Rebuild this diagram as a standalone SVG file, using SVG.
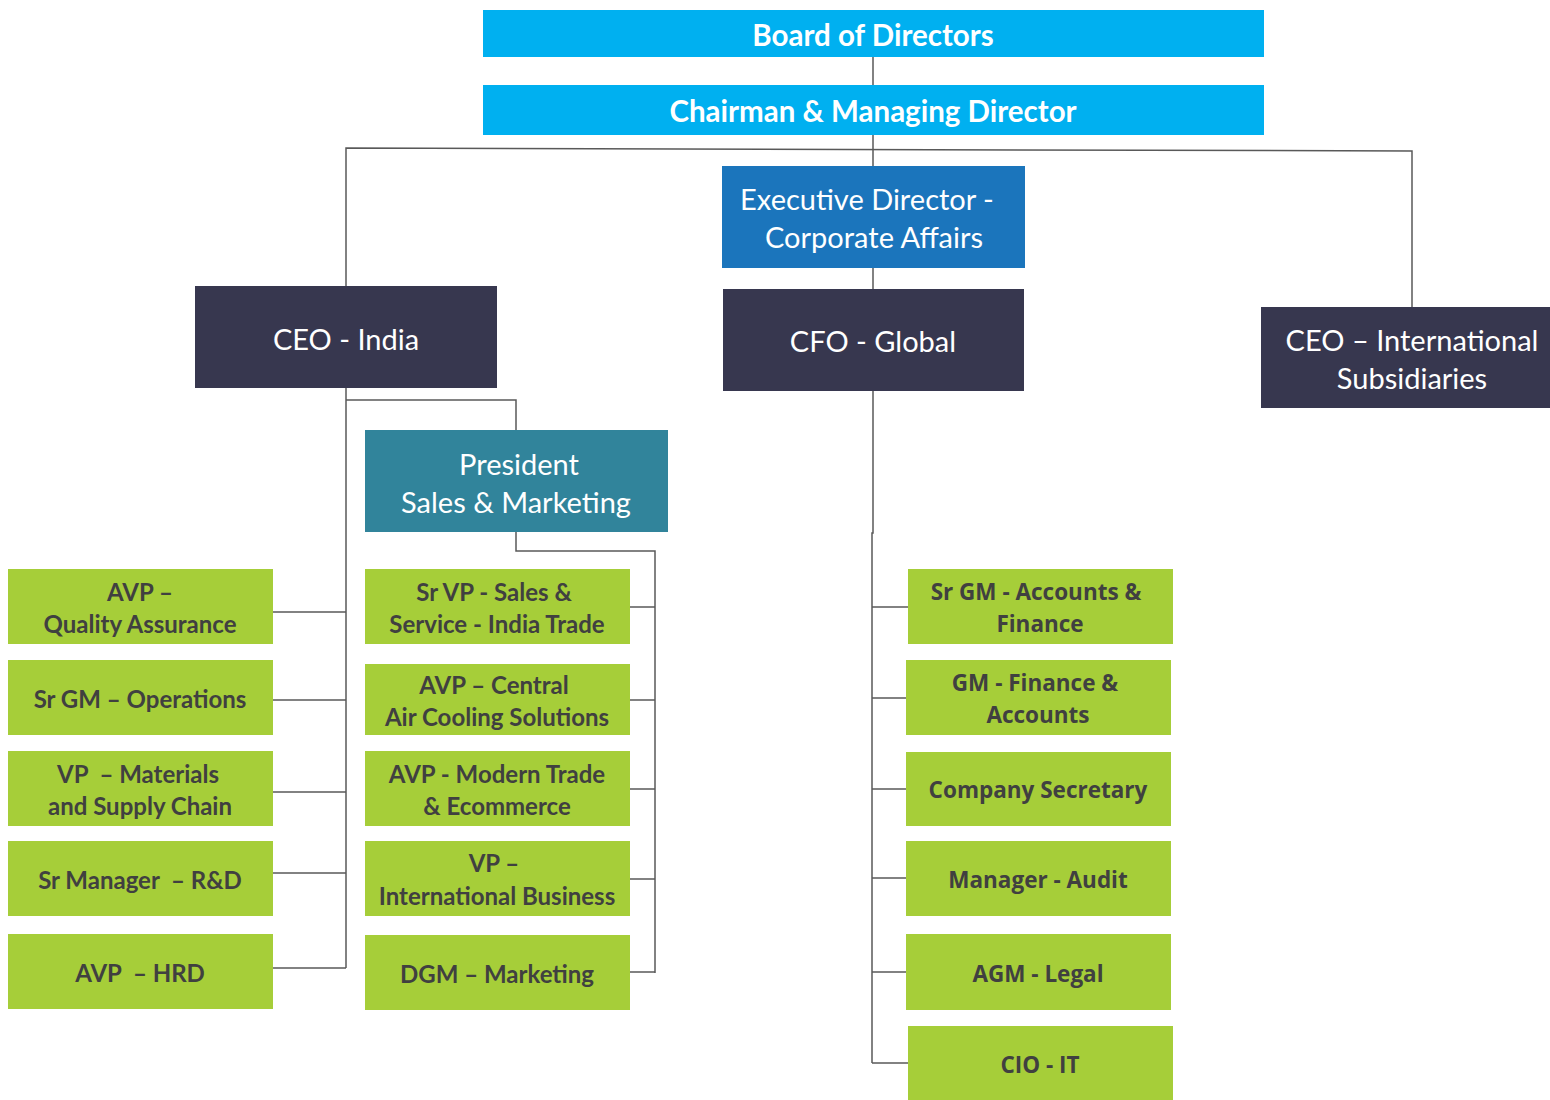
<svg xmlns="http://www.w3.org/2000/svg" width="1550" height="1100" viewBox="0 0 1550 1100">
<style>
.bg{fill:#ffffff}
.top{fill:#00B0F0}
.ed{fill:#1B75BC}
.dark{fill:#37374F}
.pres{fill:#31849B}
.green{fill:#A6CE39}
.tw{fill:#ffffff;font-family:Lato,"Liberation Sans",sans-serif;text-anchor:middle;dominant-baseline:central}
.tb{font-weight:700;font-size:29.5px}
.tr{font-weight:400;font-size:29px}
.tg{fill:#404040;font-family:Lato,"Liberation Sans",sans-serif;font-weight:700;font-size:24px;text-anchor:middle;dominant-baseline:central}
.tf{fill:#404040;font-family:"Open Sans","Liberation Sans",sans-serif;font-weight:700;font-size:22.5px;text-anchor:middle;dominant-baseline:central}
.ln{fill:none;stroke:#595959;stroke-width:1.5}
</style>
<rect class="bg" x="0" y="0" width="1550" height="1100"/>
<g id="connectors">
<polyline class="ln" points="873,57 873,85"/>
<polyline class="ln" points="873,135 873,166"/>
<polyline class="ln" points="346,286 346,148 1412,151 1412,307"/>
<polyline class="ln" points="873,268 873,289"/>
<polyline class="ln" points="346,388 346,968"/>
<polyline class="ln" points="346,400 516,400 516,430"/>
<polyline class="ln" points="273,612 346,612"/>
<polyline class="ln" points="273,700 346,700"/>
<polyline class="ln" points="273,792 346,792"/>
<polyline class="ln" points="273,873 346,873"/>
<polyline class="ln" points="273,968 346,968"/>
<polyline class="ln" points="516,532 516,551 655,551 655,973"/>
<polyline class="ln" points="630,607 655,607"/>
<polyline class="ln" points="630,700 655,700"/>
<polyline class="ln" points="630,789 655,789"/>
<polyline class="ln" points="630,879 655,879"/>
<polyline class="ln" points="630,972 655,972"/>
<polyline class="ln" points="873,391 873,533 872,533 872,1063"/>
<polyline class="ln" points="872,607 908,607"/>
<polyline class="ln" points="872,698 906,698"/>
<polyline class="ln" points="872,789 906,789"/>
<polyline class="ln" points="872,878 906,878"/>
<polyline class="ln" points="872,972 906,972"/>
<polyline class="ln" points="872,1063 908,1063"/>
</g>
<g id="board"><rect class="top" x="483" y="10" width="781" height="47"/><text class="tw tb" x="873" y="34">Board of Directors</text></g>
<g id="chairman"><rect class="top" x="483" y="85" width="781" height="50"/><text class="tw tb" x="873" y="110">Chairman &amp; Managing Director</text></g>
<g id="ed"><rect class="ed" x="722" y="166" width="303" height="102"/><text class="tw tr" x="867" y="198">Executive Director -</text><text class="tw tr" x="874" y="236">Corporate Affairs</text></g>
<g id="ceo-india"><rect class="dark" x="195" y="286" width="302" height="102"/><text class="tw tr" x="346" y="338">CEO - India</text></g>
<g id="cfo"><rect class="dark" x="723" y="289" width="301" height="102"/><text class="tw tr" x="873" y="340">CFO - Global</text></g>
<g id="ceo-intl"><rect class="dark" x="1261" y="307" width="289" height="101"/><text class="tw tr" x="1412" y="339">CEO – International</text><text class="tw tr" x="1412" y="377">Subsidiaries</text></g>
<g id="president"><rect class="pres" x="365" y="430" width="303" height="102"/><text class="tw tr" x="519" y="463">President</text><text class="tw tr" x="516" y="501">Sales &amp; Marketing</text></g>
<g id="avp-qa"><rect class="green" x="8" y="569" width="265" height="75"/><text class="tg" x="140" y="591">AVP –</text><text class="tg" x="140" y="623">Quality Assurance</text></g>
<g id="srgm-ops"><rect class="green" x="8" y="660" width="265" height="75"/><text class="tg" x="140" y="698">Sr GM – Operations</text></g>
<g id="vp-materials"><rect class="green" x="8" y="751" width="265" height="75"/><text class="tg" x="138" y="773" xml:space="preserve">VP  – Materials</text><text class="tg" x="140" y="805">and Supply Chain</text></g>
<g id="srmgr-rd"><rect class="green" x="8" y="841" width="265" height="75"/><text class="tg" x="140" y="879" xml:space="preserve">Sr Manager  – R&amp;D</text></g>
<g id="avp-hrd"><rect class="green" x="8" y="934" width="265" height="75"/><text class="tg" x="140" y="972" xml:space="preserve">AVP  – HRD</text></g>
<g id="srvp-sales"><rect class="green" x="365" y="569" width="265" height="75"/><text class="tg" x="494" y="591">Sr VP - Sales &amp;</text><text class="tg" x="497" y="623">Service - India Trade</text></g>
<g id="avp-central"><rect class="green" x="365" y="664" width="265" height="71"/><text class="tg" x="494" y="684">AVP – Central</text><text class="tg" x="497" y="716">Air Cooling Solutions</text></g>
<g id="avp-modern"><rect class="green" x="365" y="751" width="265" height="75"/><text class="tg" x="497" y="773">AVP - Modern Trade</text><text class="tg" x="497" y="805">&amp; Ecommerce</text></g>
<g id="vp-intl"><rect class="green" x="365" y="841" width="265" height="75"/><text class="tg" x="494" y="862">VP –</text><text class="tg" x="497" y="895">International Business</text></g>
<g id="dgm-mkt"><rect class="green" x="365" y="935" width="265" height="75"/><text class="tg" x="497" y="973">DGM – Marketing</text></g>
<g id="srgm-acc"><rect class="green" x="908" y="569" width="265" height="75"/><text class="tf" x="1036" y="591">Sr GM - Accounts &amp;</text><text class="tf" x="1040" y="623">Finance</text></g>
<g id="gm-fin"><rect class="green" x="906" y="660" width="265" height="75"/><text class="tf" x="1035" y="682">GM - Finance &amp;</text><text class="tf" x="1038" y="714">Accounts</text></g>
<g id="cs"><rect class="green" x="906" y="752" width="265" height="74"/><text class="tf" x="1038" y="789">Company Secretary</text></g>
<g id="audit"><rect class="green" x="906" y="841" width="265" height="75"/><text class="tf" x="1038" y="879">Manager - Audit</text></g>
<g id="legal"><rect class="green" x="906" y="934" width="265" height="76"/><text class="tf" x="1038" y="973">AGM - Legal</text></g>
<g id="cio"><rect class="green" x="908" y="1026" width="265" height="74"/><text class="tf" x="1040" y="1064">CIO - IT</text></g>
</svg>
